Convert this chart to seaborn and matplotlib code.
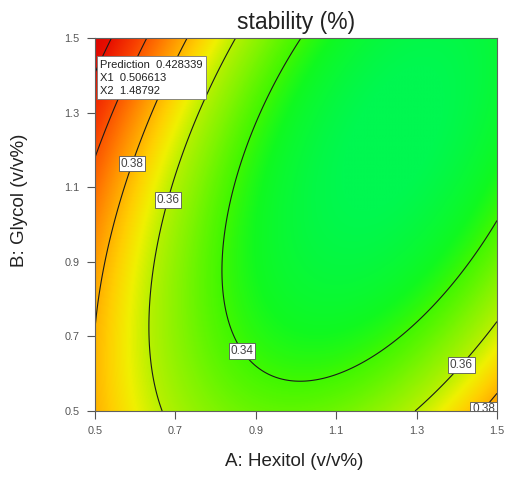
import numpy as np
import matplotlib
matplotlib.use("Agg")
import matplotlib.pyplot as plt
import seaborn as sns
from matplotlib.colors import LinearSegmentedColormap

# Quadratic response-surface model of stability (%) in actual factor units,
# estimated from the contour positions read off the reference picture:
# stability = b0 + bA*A + bB*B + bAB*A*B + bAA*A^2 + bBB*B^2
b0 = 0.48744
bA = -0.24301
bB = -0.02582
bAB = -0.10769
bAA = 0.15120
bBB = 0.06484

factor_range = [0.5, 1.5]
levels = [0.34, 0.36, 0.38, 0.40, 0.42]
ticks = [0.5, 0.7, 0.9, 1.1, 1.3, 1.5]
tick_labels = ["0.5", "0.7", "0.9", "1.1", "1.3", "1.5"]
prediction_text = ["Prediction  0.428339", "X1  0.506613", "X2  1.48792"]

sns.set_style("ticks")
plt.rcParams['font.family'] = ['Liberation Sans', 'DejaVu Sans']

fig = plt.figure(figsize=(5.06, 4.96), dpi=100)
ax = fig.add_axes([95 / 506, 1 - 411 / 496, 402 / 506, 373 / 496])

a = np.linspace(factor_range[0], factor_range[1], 400)
b = np.linspace(factor_range[0], factor_range[1], 400)
AA, BB = np.meshgrid(a, b)
Z = b0 + bA * AA + bB * BB + bAB * AA * BB + bAA * AA ** 2 + bBB * BB ** 2

vmin, vmax = 0.322, 0.435
anchors = [(0.322, "#00F850"), (0.333, "#10FA20"), (0.340, "#40F800"), (0.350, "#80F400"),
           (0.360, "#B8F000"), (0.367, "#F0F000"), (0.374, "#FFD000"), (0.383, "#FFA400"),
           (0.393, "#FF7400"), (0.405, "#F84000"), (0.420, "#E81000"), (0.435, "#D80000")]
cmap = LinearSegmentedColormap.from_list(
    "de", [((v - vmin) / (vmax - vmin), col) for v, col in anchors])

ax.imshow(Z, extent=[factor_range[0], factor_range[1], factor_range[0], factor_range[1]],
          origin="lower", cmap=cmap, vmin=vmin, vmax=vmax,
          aspect="auto", interpolation="bilinear")
cs = ax.contour(AA, BB, Z, levels=levels, colors="#1a1a1a", linewidths=0.8)

label_pos = [(0.587, 1.165), (0.675, 1.068), (0.862, 0.658), (1.405, 0.629), (1.452, 0.518)]
txts = ax.clabel(cs, manual=label_pos, inline=False, fmt="%.2f", fontsize=8.5)
for t in txts:
    t.set_rotation(0)
    t.set_color("#444444")
    t.set_bbox(dict(boxstyle="square,pad=0.15", fc="white", ec="#555555", lw=0.6))

ax.set_xlim(*factor_range)
ax.set_ylim(*factor_range)
ax.set_xticks(ticks)
ax.set_xticklabels(tick_labels)
ax.set_yticks(ticks)
ax.set_yticklabels(tick_labels)
ax.tick_params(direction="out", length=6, width=0.8, color="#555555",
               labelsize=7.8, labelcolor="#555555", pad=5)
for s in ax.spines.values():
    s.set_color("#606060")
    s.set_linewidth(0.8)

ax.text(0.013, 0.942, "\n".join(prediction_text), transform=ax.transAxes,
        ha="left", va="top", fontsize=8, color="#222222", linespacing=1.4,
        bbox=dict(boxstyle="square,pad=0.3", fc="white", ec="#777777", lw=0.6))

fig.text(296 / 506, 1 - 22 / 496, "stability (%)", ha="center", va="center", fontsize=16.5, color="#222222")
fig.text(294 / 506, 1 - 462 / 496, "A: Hexitol (v/v%)", ha="center", va="center", fontsize=13.5, color="#222222")
fig.text(20 / 506, 1 - 200 / 496, "B: Glycol (v/v%)", ha="center", va="center", rotation=90,
         fontsize=13.5, color="#222222")

fig.savefig("out.png", dpi=100)
